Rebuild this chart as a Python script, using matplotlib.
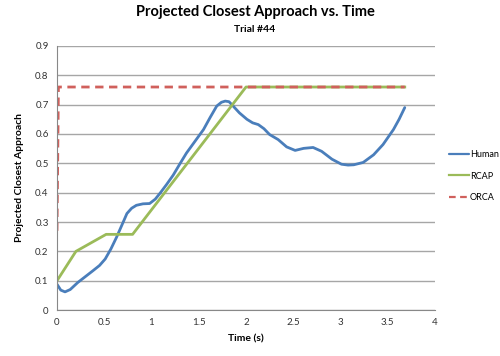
import numpy as np
import matplotlib
matplotlib.use("Agg")
import matplotlib.pyplot as plt

plt.rcParams['font.family'] = ['Lato', 'DejaVu Sans']

# Human trace (time s, projected closest approach)
human_t = [0.0, 0.04, 0.085, 0.14, 0.22, 0.30, 0.38, 0.45, 0.51, 0.57, 0.63, 0.69, 0.74, 0.79,
           0.84, 0.91, 0.98, 1.04, 1.09, 1.16, 1.23, 1.30, 1.37, 1.46, 1.55, 1.62, 1.69,
           1.74, 1.78, 1.82, 1.85, 1.93, 2.01, 2.07, 2.13, 2.19, 2.25, 2.34, 2.43, 2.52,
           2.61, 2.71, 2.80, 2.91, 3.01, 3.08, 3.14, 3.24, 3.35, 3.45, 3.56, 3.62, 3.68]
human_y = [0.088, 0.068, 0.062, 0.070, 0.094, 0.114, 0.134, 0.152, 0.174, 0.208, 0.248, 0.292,
           0.329, 0.347, 0.357, 0.362, 0.363, 0.378, 0.398, 0.428, 0.46, 0.498, 0.535, 0.575,
           0.615, 0.656, 0.695, 0.708, 0.712, 0.710, 0.70, 0.672, 0.65, 0.638, 0.632, 0.618,
           0.598, 0.581, 0.556, 0.544, 0.551, 0.554, 0.541, 0.514, 0.497, 0.494, 0.495,
           0.503, 0.529, 0.564, 0.615, 0.65, 0.69]

rcap_t = [0.0, 0.2, 0.52, 0.8, 2.0, 3.68]
rcap_y = [0.1, 0.2, 0.258, 0.258, 0.76, 0.76]

orca_t = [0.0, 0.015, 3.68]
orca_y = [0.27, 0.76, 0.76]

xticks = [0, 0.5, 1, 1.5, 2, 2.5, 3, 3.5, 4]
yticks = [0, 0.1, 0.2, 0.3, 0.4, 0.5, 0.6, 0.7, 0.8, 0.9]

fig = plt.figure(figsize=(5, 3.56), dpi=100)
ax = fig.add_axes([0.114, 0.129, 0.756, 0.742])

ax.plot(human_t, human_y, '-', color='#4A7EBB', lw=2, label="Human",
        solid_joinstyle='round', solid_capstyle='round')
ax.plot(rcap_t, rcap_y, '-', color='#9BBB59', lw=2, label="RCAP")
ax.plot(orca_t, orca_y, '--', color='#D0605C', lw=2, dashes=(3, 2), label="ORCA")

ax.set_xlim(0, 4)
ax.set_ylim(0, 0.9)
ax.set_xticks(xticks)
ax.set_xticklabels(["0", "0.5", "1", "1.5", "2", "2.5", "3", "3.5", "4"])
ax.set_yticks(yticks)
ax.set_yticklabels(["0", "0.1", "0.2", "0.3", "0.4", "0.5", "0.6", "0.7", "0.8", "0.9"])
ax.grid(axis='y', color='#A6A6A6', lw=1)
ax.set_axisbelow(True)
for s in ['top', 'right']:
    ax.spines[s].set_visible(False)
ax.spines['left'].set_color('#888888')
ax.spines['bottom'].set_color('#888888')
ax.tick_params(length=0, labelsize=7, colors='#333333', pad=6)

ax.set_xlabel("Time (s)", fontsize=7.5, fontweight='bold', labelpad=5)
ax.set_ylabel("Projected Closest Approach", fontsize=7.5, fontweight='bold', labelpad=8)

fig.text(0.51, 0.965, "Projected Closest Approach vs. Time", ha='center', va='center',
         fontsize=10.5, fontweight='bold')
fig.text(0.51, 0.918, "Trial #44", ha='center', va='center', fontsize=7.5, fontweight='bold')

leg = ax.legend(loc='center left', bbox_to_anchor=(1.037, 0.507), frameon=False, fontsize=6.5,
                handlelength=2.2, handletextpad=0.1, labelspacing=1.4,
                borderpad=0, borderaxespad=0)
for h in leg.get_lines():
    h.set_linewidth(1.6)

fig.savefig("out.png", dpi=100)
